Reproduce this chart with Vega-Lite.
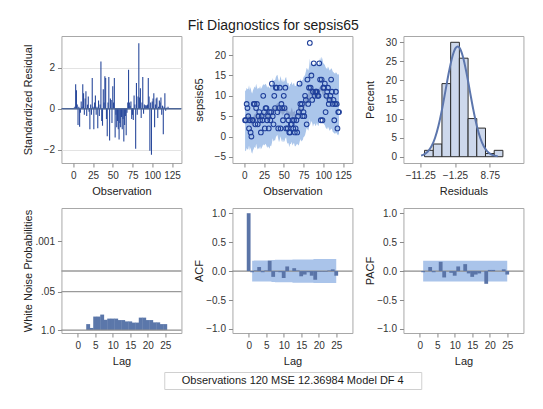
{
  "$schema": "https://vega.github.io/schema/vega-lite/v6.json",
  "background": "white",
  "padding": {"left": 21, "top": 18, "right": 20, "bottom": 8},
  "title": {"text": "Fit Diagnostics for sepsis65", "fontSize": 14, "fontWeight": "normal", "color": "#1a1a1a", "anchor": "middle", "offset": 3},
  "config": {
    "font": "Liberation Sans",
    "view": {"stroke": "#a8a8a8", "strokeWidth": 1},
    "axis": {"domain": false, "ticks": true, "tickColor": "#8a8a8a", "tickSize": 4, "labelFontSize": 10, "labelColor": "#333333", "titleFontSize": 11, "titleFontWeight": "normal", "titleColor": "#222222", "grid": false, "labelPadding": 3, "labelFlush": false, "labelOverlap": false},
    "axisY": {"minExtent": 24, "maxExtent": 24, "titlePadding": 4},
    "axisX": {"minExtent": 16, "maxExtent": 16, "titlePadding": 6}
  },
  "datasets": {
    "ts": [
      {"obs":1,"y":4,"pred":4.0,"lo":-3.4,"hi":11.4,"r":0.05},
      {"obs":2,"y":4,"pred":3.8,"lo":-3.6,"hi":11.2,"r":0.1},
      {"obs":3,"y":8,"pred":4.6,"lo":-2.8,"hi":12.0,"r":1.2},
      {"obs":4,"y":7,"pred":4.2,"lo":-3.2,"hi":11.6,"r":0.9},
      {"obs":5,"y":5,"pred":4.3,"lo":-3.1,"hi":11.7,"r":0.2},
      {"obs":6,"y":2,"pred":5.2,"lo":-2.2,"hi":12.6,"r":-0.8},
      {"obs":7,"y":4,"pred":4.0,"lo":-3.4,"hi":11.4,"r":0.1},
      {"obs":8,"y":1,"pred":4.8,"lo":-2.6,"hi":12.2,"r":-0.88},
      {"obs":9,"y":0,"pred":3.6,"lo":-3.8,"hi":11.0,"r":-0.2},
      {"obs":10,"y":4,"pred":3.2,"lo":-4.2,"hi":10.6,"r":0.35},
      {"obs":11,"y":4,"pred":4.0,"lo":-3.4,"hi":11.4,"r":0.1},
      {"obs":12,"y":8,"pred":4.4,"lo":-3.0,"hi":11.8,"r":1.2},
      {"obs":13,"y":8,"pred":4.9,"lo":-2.5,"hi":12.3,"r":0.75},
      {"obs":14,"y":3,"pred":4.5,"lo":-2.9,"hi":11.9,"r":-0.3},
      {"obs":15,"y":7,"pred":5.6,"lo":-1.8,"hi":13.0,"r":0.5},
      {"obs":16,"y":8,"pred":4.8,"lo":-2.6,"hi":12.2,"r":0.85},
      {"obs":17,"y":3,"pred":4.2,"lo":-3.2,"hi":11.6,"r":-0.35},
      {"obs":18,"y":5,"pred":4.5,"lo":-2.9,"hi":11.9,"r":0.2},
      {"obs":19,"y":6,"pred":4.4,"lo":-3.0,"hi":11.8,"r":0.6},
      {"obs":20,"y":4,"pred":5.0,"lo":-2.4,"hi":12.4,"r":-0.15},
      {"obs":21,"y":1,"pred":4.3,"lo":-3.1,"hi":11.7,"r":-1.0},
      {"obs":22,"y":5,"pred":4.6,"lo":-2.8,"hi":12.0,"r":0.2},
      {"obs":23,"y":4,"pred":5.0,"lo":-2.4,"hi":12.4,"r":-0.3},
      {"obs":24,"y":10,"pred":5.5,"lo":-1.9,"hi":12.9,"r":1.5},
      {"obs":25,"y":6,"pred":5.2,"lo":-2.2,"hi":12.6,"r":0.1},
      {"obs":26,"y":2,"pred":5.4,"lo":-2.0,"hi":12.8,"r":-1.0},
      {"obs":27,"y":7,"pred":5.6,"lo":-1.8,"hi":13.0,"r":0.3},
      {"obs":28,"y":7,"pred":5.2,"lo":-2.2,"hi":12.6,"r":0.65},
      {"obs":29,"y":4,"pred":4.6,"lo":-2.8,"hi":12.0,"r":-0.3},
      {"obs":30,"y":5,"pred":5.0,"lo":-2.4,"hi":12.4,"r":0.1},
      {"obs":31,"y":2,"pred":4.8,"lo":-2.6,"hi":12.2,"r":-0.95},
      {"obs":32,"y":6,"pred":4.4,"lo":-3.0,"hi":11.8,"r":0.4},
      {"obs":33,"y":4,"pred":5.2,"lo":-2.2,"hi":12.6,"r":-0.35},
      {"obs":34,"y":6,"pred":5.0,"lo":-2.4,"hi":12.4,"r":0.2},
      {"obs":35,"y":13,"pred":5.8,"lo":-1.6,"hi":13.2,"r":2.3},
      {"obs":36,"y":5,"pred":7.0,"lo":-0.4,"hi":14.4,"r":-0.6},
      {"obs":37,"y":3,"pred":6.2,"lo":-1.2,"hi":13.6,"r":-0.83},
      {"obs":38,"y":10,"pred":6.5,"lo":-0.9,"hi":13.9,"r":0.95},
      {"obs":39,"y":7,"pred":6.4,"lo":-1.0,"hi":13.8,"r":0.3},
      {"obs":40,"y":12,"pred":7.2,"lo":-0.2,"hi":14.6,"r":1.58},
      {"obs":41,"y":12,"pred":7.6,"lo":0.2,"hi":15.0,"r":1.5},
      {"obs":42,"y":6,"pred":7.8,"lo":0.4,"hi":15.2,"r":-0.5},
      {"obs":43,"y":2,"pred":6.8,"lo":-0.6,"hi":14.2,"r":-1.35},
      {"obs":44,"y":7,"pred":6.0,"lo":-1.4,"hi":13.4,"r":0.3},
      {"obs":45,"y":12,"pred":6.6,"lo":-0.8,"hi":14.0,"r":1.55},
      {"obs":46,"y":2,"pred":7.5,"lo":0.1,"hi":14.9,"r":-1.55},
      {"obs":47,"y":8,"pred":6.5,"lo":-0.9,"hi":13.9,"r":0.5},
      {"obs":48,"y":7,"pred":6.0,"lo":-1.4,"hi":13.4,"r":0.42},
      {"obs":49,"y":4,"pred":6.8,"lo":-0.6,"hi":14.2,"r":-0.7},
      {"obs":50,"y":10,"pred":6.0,"lo":-1.4,"hi":13.4,"r":1.1},
      {"obs":51,"y":7,"pred":6.3,"lo":-1.1,"hi":13.7,"r":0.3},
      {"obs":52,"y":12,"pred":7.0,"lo":-0.4,"hi":14.4,"r":1.5},
      {"obs":53,"y":2,"pred":7.2,"lo":-0.2,"hi":14.6,"r":-1.4},
      {"obs":54,"y":5,"pred":6.0,"lo":-1.4,"hi":13.4,"r":-0.3},
      {"obs":55,"y":2,"pred":5.6,"lo":-1.8,"hi":13.0,"r":-0.9},
      {"obs":56,"y":4,"pred":5.8,"lo":-1.6,"hi":13.2,"r":-0.6},
      {"obs":57,"y":1,"pred":4.8,"lo":-2.6,"hi":12.2,"r":-1.0},
      {"obs":58,"y":1,"pred":5.6,"lo":-1.8,"hi":13.0,"r":-1.5},
      {"obs":59,"y":3,"pred":5.5,"lo":-1.9,"hi":12.9,"r":-0.7},
      {"obs":60,"y":3,"pred":6.1,"lo":-1.3,"hi":13.5,"r":-0.9},
      {"obs":61,"y":4,"pred":5.2,"lo":-2.2,"hi":12.6,"r":-0.4},
      {"obs":62,"y":2,"pred":5.6,"lo":-1.8,"hi":13.0,"r":-1.0},
      {"obs":63,"y":4,"pred":5.8,"lo":-1.6,"hi":13.2,"r":-0.5},
      {"obs":64,"y":1,"pred":5.0,"lo":-2.4,"hi":12.4,"r":-1.6},
      {"obs":65,"y":2,"pred":5.0,"lo":-2.4,"hi":12.4,"r":-0.8},
      {"obs":66,"y":4,"pred":5.4,"lo":-2.0,"hi":12.8,"r":-0.35},
      {"obs":67,"y":1,"pred":5.6,"lo":-1.8,"hi":13.0,"r":-1.3},
      {"obs":68,"y":5,"pred":5.4,"lo":-2.0,"hi":12.8,"r":-0.2},
      {"obs":69,"y":6,"pred":5.2,"lo":-2.2,"hi":12.6,"r":0.3},
      {"obs":70,"y":13,"pred":6.0,"lo":-1.4,"hi":13.4,"r":1.9},
      {"obs":71,"y":8,"pred":6.8,"lo":-0.6,"hi":14.2,"r":0.3},
      {"obs":72,"y":7,"pred":6.2,"lo":-1.2,"hi":13.6,"r":0.15},
      {"obs":73,"y":8,"pred":6.4,"lo":-1.0,"hi":13.8,"r":0.35},
      {"obs":74,"y":5,"pred":6.5,"lo":-0.9,"hi":13.9,"r":-0.5},
      {"obs":75,"y":6,"pred":7.2,"lo":-0.2,"hi":14.6,"r":-0.3},
      {"obs":76,"y":5,"pred":7.4,"lo":0.0,"hi":14.8,"r":-0.55},
      {"obs":77,"y":10,"pred":7.8,"lo":0.4,"hi":15.2,"r":0.65},
      {"obs":78,"y":9,"pred":8.6,"lo":1.2,"hi":16.0,"r":0.2},
      {"obs":79,"y":3,"pred":9.5,"lo":2.1,"hi":16.9,"r":-1.95},
      {"obs":80,"y":14,"pred":9.2,"lo":1.8,"hi":16.6,"r":1.25},
      {"obs":81,"y":8,"pred":8.8,"lo":1.4,"hi":16.2,"r":-0.3},
      {"obs":82,"y":12,"pred":9.6,"lo":2.2,"hi":17.0,"r":0.6},
      {"obs":83,"y":23,"pred":11.8,"lo":4.4,"hi":19.2,"r":3.2},
      {"obs":84,"y":12,"pred":10.2,"lo":2.8,"hi":17.6,"r":0.55},
      {"obs":85,"y":15,"pred":11.2,"lo":3.8,"hi":18.6,"r":1.0},
      {"obs":86,"y":9,"pred":10.8,"lo":3.4,"hi":18.2,"r":-0.45},
      {"obs":87,"y":11,"pred":9.8,"lo":2.4,"hi":17.2,"r":0.3},
      {"obs":88,"y":18,"pred":10.5,"lo":3.1,"hi":17.9,"r":1.55},
      {"obs":89,"y":10,"pred":10.6,"lo":3.2,"hi":18.0,"r":-0.25},
      {"obs":90,"y":11,"pred":10.0,"lo":2.6,"hi":17.4,"r":0.2},
      {"obs":91,"y":11,"pred":10.2,"lo":2.8,"hi":17.6,"r":0.15},
      {"obs":92,"y":11,"pred":10.8,"lo":3.4,"hi":18.2,"r":0.18},
      {"obs":93,"y":10,"pred":10.2,"lo":2.8,"hi":17.6,"r":0.15},
      {"obs":94,"y":10,"pred":10.0,"lo":2.6,"hi":17.4,"r":0.2},
      {"obs":95,"y":18,"pred":11.0,"lo":3.6,"hi":18.4,"r":1.5},
      {"obs":96,"y":14,"pred":12.0,"lo":4.6,"hi":19.4,"r":0.6},
      {"obs":97,"y":4,"pred":11.2,"lo":3.8,"hi":18.6,"r":-2.05},
      {"obs":98,"y":14,"pred":12.2,"lo":4.8,"hi":19.6,"r":0.3},
      {"obs":99,"y":4,"pred":11.6,"lo":4.2,"hi":19.0,"r":-2.25},
      {"obs":100,"y":12,"pred":10.6,"lo":3.2,"hi":18.0,"r":0.35},
      {"obs":101,"y":12,"pred":10.4,"lo":3.0,"hi":17.8,"r":0.5},
      {"obs":102,"y":13,"pred":10.2,"lo":2.8,"hi":17.6,"r":0.75},
      {"obs":103,"y":6,"pred":9.6,"lo":2.2,"hi":17.0,"r":-0.9},
      {"obs":104,"y":10,"pred":9.4,"lo":2.0,"hi":16.8,"r":0.2},
      {"obs":105,"y":11,"pred":9.2,"lo":1.8,"hi":16.6,"r":0.5},
      {"obs":106,"y":12,"pred":9.8,"lo":2.4,"hi":17.2,"r":0.55},
      {"obs":107,"y":8,"pred":9.4,"lo":2.0,"hi":16.8,"r":-0.45},
      {"obs":108,"y":9,"pred":8.8,"lo":1.4,"hi":16.2,"r":0.1},
      {"obs":109,"y":10,"pred":9.0,"lo":1.6,"hi":16.4,"r":0.4},
      {"obs":110,"y":14,"pred":9.4,"lo":2.0,"hi":16.8,"r":0.3},
      {"obs":111,"y":11,"pred":9.2,"lo":1.8,"hi":16.6,"r":0.55},
      {"obs":112,"y":8,"pred":8.6,"lo":1.2,"hi":16.0,"r":-0.3},
      {"obs":113,"y":9,"pred":8.4,"lo":1.0,"hi":15.8,"r":0.15},
      {"obs":114,"y":4,"pred":8.2,"lo":0.8,"hi":15.6,"r":-1.25},
      {"obs":115,"y":8,"pred":8.0,"lo":0.6,"hi":15.4,"r":0.1},
      {"obs":116,"y":11,"pred":8.4,"lo":1.0,"hi":15.8,"r":0.75},
      {"obs":117,"y":8,"pred":8.2,"lo":0.8,"hi":15.6,"r":-0.1},
      {"obs":118,"y":2,"pred":7.8,"lo":0.4,"hi":15.2,"r":0.05},
      {"obs":119,"y":6,"pred":8.0,"lo":0.6,"hi":15.4,"r":0.0},
      {"obs":120,"y":6,"pred":7.6,"lo":0.2,"hi":15.0,"r":0.1}
    ],
    "hist": [
      {"lo":-10,"hi":-7.5,"pct":1.67},
      {"lo":-7.5,"hi":-5,"pct":3.33},
      {"lo":-5,"hi":-2.5,"pct":19.17},
      {"lo":-2.5,"hi":0,"pct":30},
      {"lo":0,"hi":2.5,"pct":25.83},
      {"lo":2.5,"hi":5,"pct":10},
      {"lo":5,"hi":7.5,"pct":7.5},
      {"lo":7.5,"hi":10,"pct":0.83},
      {"lo":10,"hi":12.5,"pct":1.67}
    ],
    "curve": [
      {"cx":-11,"cy":0.28},{"cx":-10,"cy":0.65},{"cx":-9,"cy":1.39},{"cx":-8,"cy":2.72},
      {"cx":-7,"cy":4.9},{"cx":-6,"cy":8.11},{"cx":-5,"cy":12.34},{"cx":-4,"cy":17.27},
      {"cx":-3,"cy":22.22},{"cx":-2,"cy":26.29},{"cx":-1,"cy":28.6},{"cx":-0.5,"cy":28.9},
      {"cx":0,"cy":28.6},{"cx":1,"cy":26.29},{"cx":2,"cy":22.22},{"cx":3,"cy":17.27},
      {"cx":4,"cy":12.34},{"cx":5,"cy":8.11},{"cx":6,"cy":4.9},{"cx":7,"cy":2.72},
      {"cx":8,"cy":1.39},{"cx":9,"cy":0.65},{"cx":10,"cy":0.28},{"cx":11,"cy":0.11}
    ],
    "wn": [
      {"lag":3,"p":0.63},{"lag":4,"p":0.85},{"lag":5,"p":0.35},{"lag":6,"p":0.35},
      {"lag":7,"p":0.30},{"lag":8,"p":0.45},{"lag":9,"p":0.41},{"lag":10,"p":0.41},
      {"lag":11,"p":0.41},{"lag":12,"p":0.46},{"lag":13,"p":0.46},{"lag":14,"p":0.51},
      {"lag":15,"p":0.51},{"lag":16,"p":0.56},{"lag":17,"p":0.56},{"lag":18,"p":0.38},
      {"lag":19,"p":0.38},{"lag":20,"p":0.46},{"lag":21,"p":0.46},{"lag":22,"p":0.55},
      {"lag":23,"p":0.55},{"lag":24,"p":0.63},{"lag":25,"p":0.63}
    ],
    "acf": [
      {"lag":0,"v":1.0},{"lag":1,"v":-0.02},{"lag":2,"v":0.01},{"lag":3,"v":0.07},
      {"lag":4,"v":-0.02},{"lag":5,"v":0.01},{"lag":6,"v":0.18},{"lag":7,"v":-0.10},
      {"lag":8,"v":-0.01},{"lag":9,"v":-0.02},{"lag":10,"v":-0.12},{"lag":11,"v":0.08},
      {"lag":12,"v":0.0},{"lag":13,"v":0.05},{"lag":14,"v":0.01},{"lag":15,"v":-0.09},
      {"lag":16,"v":-0.06},{"lag":17,"v":-0.02},{"lag":18,"v":-0.08},{"lag":19,"v":-0.15},
      {"lag":20,"v":-0.01},{"lag":21,"v":-0.01},{"lag":22,"v":-0.01},{"lag":23,"v":0.01},
      {"lag":24,"v":0.03},{"lag":25,"v":-0.08}
    ],
    "acfband": [
      {"lag":1,"lo":-0.18,"hi":0.18},{"lag":2,"lo":-0.182,"hi":0.182},{"lag":3,"lo":-0.182,"hi":0.182},
      {"lag":4,"lo":-0.182,"hi":0.182},{"lag":5,"lo":-0.182,"hi":0.182},{"lag":6,"lo":-0.182,"hi":0.182},
      {"lag":7,"lo":-0.19,"hi":0.19},{"lag":8,"lo":-0.195,"hi":0.195},{"lag":9,"lo":-0.195,"hi":0.195},
      {"lag":10,"lo":-0.195,"hi":0.195},{"lag":11,"lo":-0.195,"hi":0.195},{"lag":12,"lo":-0.195,"hi":0.195},
      {"lag":13,"lo":-0.2,"hi":0.2},{"lag":14,"lo":-0.2,"hi":0.2},{"lag":15,"lo":-0.2,"hi":0.2},
      {"lag":16,"lo":-0.2,"hi":0.2},{"lag":17,"lo":-0.2,"hi":0.2},{"lag":18,"lo":-0.2,"hi":0.2},
      {"lag":19,"lo":-0.208,"hi":0.208},{"lag":20,"lo":-0.208,"hi":0.208},{"lag":21,"lo":-0.208,"hi":0.208},
      {"lag":22,"lo":-0.208,"hi":0.208},{"lag":23,"lo":-0.208,"hi":0.208},{"lag":24,"lo":-0.208,"hi":0.208},
      {"lag":25,"lo":-0.208,"hi":0.208}
    ],
    "pacf": [
      {"lag":1,"v":-0.02},{"lag":2,"v":0.0},{"lag":3,"v":0.07},{"lag":4,"v":-0.02},
      {"lag":5,"v":0.0},{"lag":6,"v":0.16},{"lag":7,"v":-0.11},{"lag":8,"v":0.0},
      {"lag":9,"v":-0.03},{"lag":10,"v":-0.08},{"lag":11,"v":0.08},{"lag":12,"v":0.0},
      {"lag":13,"v":0.12},{"lag":14,"v":-0.04},{"lag":15,"v":-0.1},{"lag":16,"v":-0.06},
      {"lag":17,"v":-0.04},{"lag":18,"v":0.0},{"lag":19,"v":-0.22},{"lag":20,"v":0.02},
      {"lag":21,"v":0.02},{"lag":22,"v":0.0},{"lag":23,"v":0.0},{"lag":24,"v":0.03},
      {"lag":25,"v":-0.06}
    ],
    "pacfband": [
      {"lag":1,"lo":-0.18,"hi":0.18},{"lag":25,"lo":-0.18,"hi":0.18}
    ]
  },
  "vconcat": [
    {
      "vconcat": [
        {
          "hconcat": [
            {
              "width": 120, "height": 127,
              "layer": [
                {
                  "data": {"name": "ts"},
                  "mark": {"type": "rule", "color": "#2a4a9c", "strokeWidth": 1.1},
                  "encoding": {
                    "x": {"field": "obs", "type": "quantitative", "title": "Observation", "scale": {"domain": [-15, 137], "nice": false, "zero": false}, "axis": {"values": [0, 25, 50, 75, 100, 125], "labelOverlap": false}},
                    "y": {"field": "r", "type": "quantitative", "title": "Standardized Residual", "scale": {"domain": [-2.65, 3.55], "nice": false, "zero": false}, "axis": {"values": [-2, 0, 2], "grid": true, "gridColor": "#e3e3e3", "labelOverlap": false}},
                    "y2": {"datum": 0}
                  }
                },
                {
                  "data": {"values": [{}]},
                  "mark": {"type": "rule", "color": "#4d6698", "strokeWidth": 1.4},
                  "encoding": {"y": {"datum": 0, "title": "Standardized Residual", "axis": {"values": [-2, 0, 2], "grid": true, "gridColor": "#e3e3e3", "labelOverlap": false}}}
                }
              ]
            },
            {
              "width": 120, "height": 127,
              "data": {"name": "ts"},
              "layer": [
                {
                  "mark": {"type": "area", "color": "#abc6eb"},
                  "encoding": {
                    "x": {"field": "obs", "type": "quantitative", "title": "Observation", "scale": {"domain": [-15, 137], "nice": false, "zero": false}, "axis": {"values": [0, 25, 50, 75, 100, 125], "labelOverlap": false}},
                    "y": {"field": "lo", "type": "quantitative", "title": "sepsis65", "scale": {"domain": [-6.5, 24.7], "nice": false, "zero": false}, "axis": {"values": [-5, 0, 5, 10, 15, 20], "labelOverlap": false}},
                    "y2": {"field": "hi"}
                  }
                },
                {
                  "mark": {"type": "line", "color": "#8098c6", "strokeWidth": 2.2, "opacity": 0.75},
                  "encoding": {
                    "x": {"field": "obs", "type": "quantitative", "title": "Observation", "axis": {"values": [0, 25, 50, 75, 100, 125], "labelOverlap": false}},
                    "y": {"field": "pred", "type": "quantitative", "title": "sepsis65", "axis": {"values": [-5, 0, 5, 10, 15, 20], "labelOverlap": false}}
                  }
                },
                {
                  "mark": {"type": "point", "shape": "circle", "filled": false, "color": "#1f3f9a", "size": 22, "strokeWidth": 1.1, "opacity": 1},
                  "encoding": {
                    "x": {"field": "obs", "type": "quantitative", "title": "Observation", "axis": {"values": [0, 25, 50, 75, 100, 125], "labelOverlap": false}},
                    "y": {"field": "y", "type": "quantitative", "title": "sepsis65", "axis": {"values": [-5, 0, 5, 10, 15, 20], "labelOverlap": false}}
                  }
                }
              ]
            },
            {
              "width": 120, "height": 127,
              "layer": [
                {
                  "data": {"name": "hist"},
                  "mark": {"type": "rect", "fill": "#cdd8ec", "stroke": "#2b2b2b", "strokeWidth": 1},
                  "encoding": {
                    "x": {"field": "lo", "type": "quantitative", "title": "Residuals", "scale": {"domain": [-16.06, 18.4], "nice": false, "zero": false}, "axis": {"values": [-11.25, -1.25, 8.75], "format": ".2f", "labelOverlap": false}},
                    "x2": {"field": "hi"},
                    "y": {"field": "pct", "type": "quantitative", "title": "Percent", "scale": {"domain": [-1.65, 31.65], "nice": false, "zero": false}, "axis": {"values": [0, 5, 10, 15, 20, 25, 30], "labelOverlap": false}},
                    "y2": {"datum": 0}
                  }
                },
                {
                  "data": {"name": "curve"},
                  "mark": {"type": "line", "color": "#5c76ad", "strokeWidth": 2, "interpolate": "monotone"},
                  "encoding": {
                    "x": {"field": "cx", "type": "quantitative", "title": "Residuals", "axis": {"values": [-11.25, -1.25, 8.75], "format": ".2f", "labelOverlap": false}},
                    "y": {"field": "cy", "type": "quantitative", "title": "Percent", "axis": {"values": [0, 5, 10, 15, 20, 25, 30], "labelOverlap": false}}
                  }
                }
              ]
            }
          ],
          "spacing": 51,
          "bounds": "flush"
        },
        {
          "hconcat": [
            {
              "width": 120, "height": 125,
              "layer": [
                {
                  "data": {"name": "wn"},
                  "mark": {"type": "bar", "color": "#5b77aa", "width": 3.9},
                  "encoding": {
                    "x": {"field": "lag", "type": "quantitative", "title": "Lag", "scale": {"domain": [-3.2, 28.2], "nice": false, "zero": false}, "axis": {"values": [0, 5, 10, 15, 20, 25], "labelOverlap": false}},
                    "y": {"field": "p", "type": "quantitative", "title": "White Noise Probabilities", "scale": {"type": "log", "domain": [0.000074, 1.26], "reverse": true, "nice": false}, "axis": {"values": [0.001, 0.05, 1], "labelOverlap": false, "labelExpr": "datum.value == 1 ? '1.0' : (datum.value == 0.05 ? '.05' : '.001')"}},
                    "y2": {"datum": 1}
                  }
                },
                {
                  "data": {"values": [{"ref": 0.05}, {"ref": 0.01}]},
                  "mark": {"type": "rule", "color": "#9a9a9a", "strokeWidth": 1.4},
                  "encoding": {"y": {"field": "ref", "type": "quantitative", "title": "White Noise Probabilities", "axis": {"values": [0.001, 0.05, 1], "labelOverlap": false, "labelExpr": "datum.value == 1 ? '1.0' : (datum.value == 0.05 ? '.05' : '.001')"}}}
                },
                {
                  "data": {"values": [{"ref": 1}]},
                  "mark": {"type": "rule", "color": "#8f8f8f", "strokeWidth": 1.2},
                  "encoding": {"y": {"field": "ref", "type": "quantitative", "title": "White Noise Probabilities", "axis": {"values": [0.001, 0.05, 1], "labelOverlap": false, "labelExpr": "datum.value == 1 ? '1.0' : (datum.value == 0.05 ? '.05' : '.001')"}}}
                }
              ]
            },
            {
              "width": 120, "height": 125,
              "layer": [
                {
                  "data": {"name": "acfband"},
                  "mark": {"type": "area", "color": "#aac4ea", "interpolate": "step"},
                  "encoding": {
                    "x": {"field": "lag", "type": "quantitative", "title": "Lag", "scale": {"domain": [-3.2, 28.2], "nice": false, "zero": false}, "axis": {"values": [0, 5, 10, 15, 20, 25], "labelOverlap": false}},
                    "y": {"field": "lo", "type": "quantitative", "title": "ACF", "scale": {"domain": [-1.07, 1.09], "nice": false, "zero": false}, "axis": {"values": [-1, -0.5, 0, 0.5, 1], "format": ".1f", "labelOverlap": false}},
                    "y2": {"field": "hi"}
                  }
                },
                {
                  "data": {"values": [{"ref": 0}]},
                  "mark": {"type": "rule", "color": "#8c8c8c", "strokeWidth": 1.2},
                  "encoding": {"y": {"field": "ref", "type": "quantitative", "title": "ACF", "axis": {"values": [-1, -0.5, 0, 0.5, 1], "format": ".1f", "labelOverlap": false}}}
                },
                {
                  "data": {"name": "acf"},
                  "mark": {"type": "bar", "color": "#5a74a7", "width": 3.8},
                  "encoding": {
                    "x": {"field": "lag", "type": "quantitative", "title": "Lag", "axis": {"values": [0, 5, 10, 15, 20, 25], "labelOverlap": false}},
                    "y": {"field": "v", "type": "quantitative", "title": "ACF", "axis": {"values": [-1, -0.5, 0, 0.5, 1], "format": ".1f", "labelOverlap": false}},
                    "y2": {"datum": 0}
                  }
                }
              ]
            },
            {
              "width": 120, "height": 125,
              "layer": [
                {
                  "data": {"name": "pacfband"},
                  "mark": {"type": "area", "color": "#aac4ea"},
                  "encoding": {
                    "x": {"field": "lag", "type": "quantitative", "title": "Lag", "scale": {"domain": [-3.2, 28.2], "nice": false, "zero": false}, "axis": {"values": [0, 5, 10, 15, 20, 25], "labelOverlap": false}},
                    "y": {"field": "lo", "type": "quantitative", "title": "PACF", "scale": {"domain": [-1.07, 1.09], "nice": false, "zero": false}, "axis": {"values": [-1, -0.5, 0, 0.5, 1], "format": ".1f", "labelOverlap": false}},
                    "y2": {"field": "hi"}
                  }
                },
                {
                  "data": {"values": [{"ref": 0}]},
                  "mark": {"type": "rule", "color": "#8c8c8c", "strokeWidth": 1.2},
                  "encoding": {"y": {"field": "ref", "type": "quantitative", "title": "PACF", "axis": {"values": [-1, -0.5, 0, 0.5, 1], "format": ".1f", "labelOverlap": false}}}
                },
                {
                  "data": {"name": "pacf"},
                  "mark": {"type": "bar", "color": "#5a74a7", "width": 3.8},
                  "encoding": {
                    "x": {"field": "lag", "type": "quantitative", "title": "Lag", "axis": {"values": [0, 5, 10, 15, 20, 25], "labelOverlap": false}},
                    "y": {"field": "v", "type": "quantitative", "title": "PACF", "axis": {"values": [-1, -0.5, 0, 0.5, 1], "format": ".1f", "labelOverlap": false}},
                    "y2": {"datum": 0}
                  }
                }
              ]
            }
          ],
          "spacing": 51,
          "bounds": "flush"
        }
      ],
      "spacing": 10,
      "bounds": "full"
    },
    {
      "width": 257, "height": 17,
      "view": {"stroke": "#d0d0d0"},
      "data": {"values": [{"t": "Observations 120  MSE 12.36984  Model DF 4"}]},
      "mark": {"type": "text", "fontSize": 11, "color": "#1a1a1a"},
      "encoding": {"text": {"field": "t"}}
    }
  ],
  "spacing": 4,
  "center": true,
  "bounds": "full"
}
